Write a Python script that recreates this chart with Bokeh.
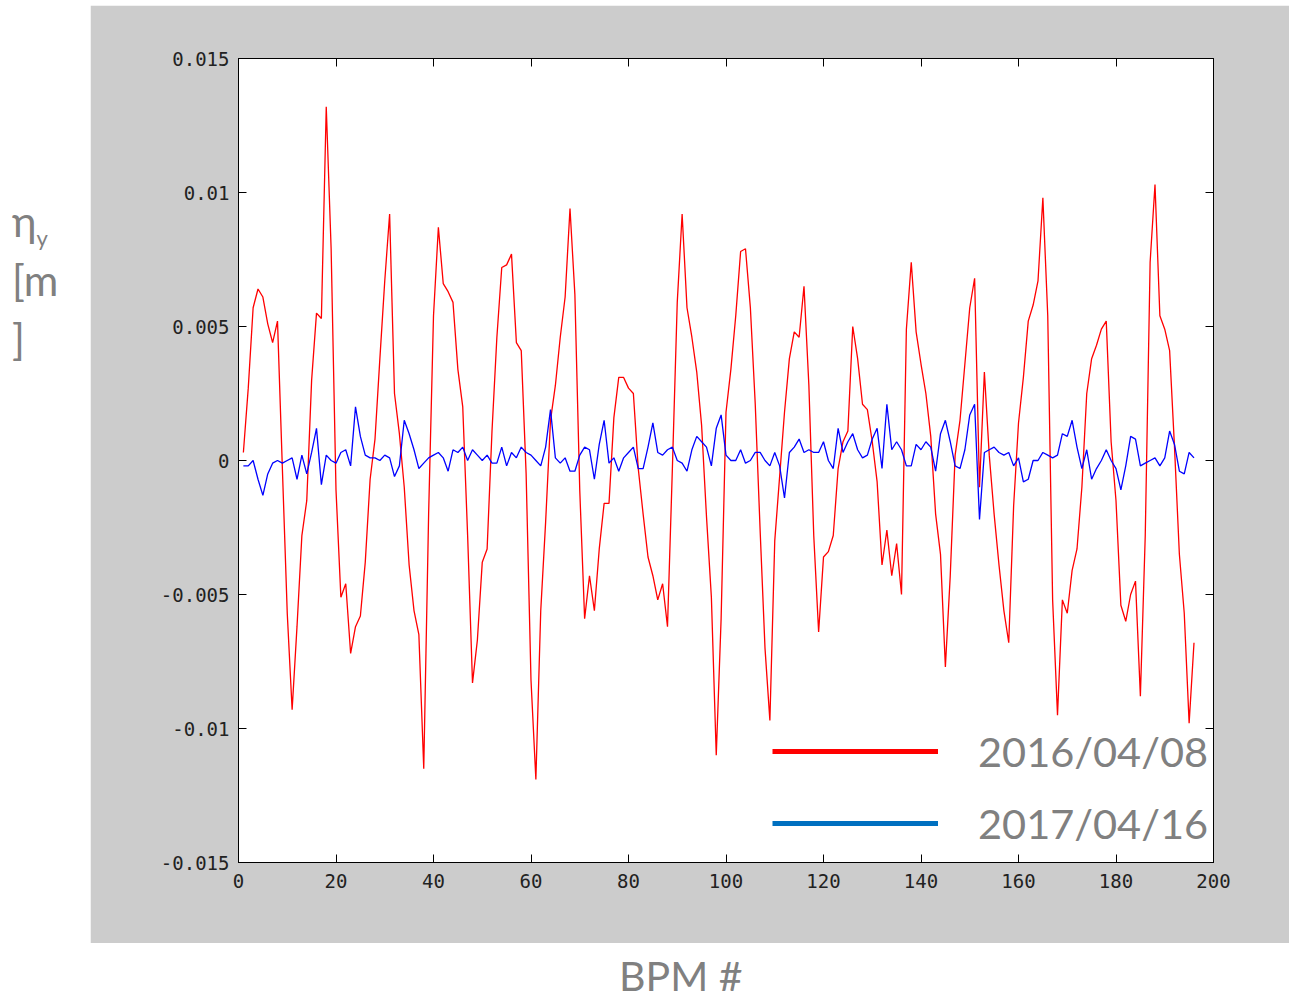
from bokeh.plotting import figure
from bokeh.models import (FixedTicker, CustomJSTickFormatter, LinearAxis, Legend,
                          LegendItem, Range1d, Div, ColumnDataSource)
from bokeh.layouts import column, row
from bokeh.embed import file_html
from bokeh.resources import INLINE

# ---------------- data ----------------
bpm = list(range(1, 197))

eta_2016 = [
    0.0003, 0.0027, 0.0057, 0.0064, 0.0061, 0.0051, 0.0044, 0.0052, -0.0003, -0.0057,
    -0.0093, -0.0062, -0.0028, -0.0015, 0.0030, 0.0055, 0.0053, 0.0132, 0.0079, -0.0011,
    -0.0051, -0.0046, -0.0072, -0.0062, -0.0058, -0.0038, -0.0007, 0.0008, 0.0038, 0.0067,
    0.0092, 0.0025, 0.0010, -0.0010, -0.0039, -0.0056, -0.0065, -0.0115, -0.0020, 0.0054,
    0.0087, 0.0066, 0.0063, 0.0059, 0.0034, 0.0020, -0.0028, -0.0083, -0.0067, -0.0038,
    -0.0033, 0.0011, 0.0046, 0.0072, 0.0073, 0.0077, 0.0044, 0.0041, -0.0005, -0.0082,
    -0.0119, -0.0056, -0.0023, 0.0015, 0.0028, 0.0046, 0.0061, 0.0094, 0.0062, -0.0011,
    -0.0059, -0.0043, -0.0056, -0.0033, -0.0016, -0.0016, 0.0016, 0.0031, 0.0031, 0.0027,
    0.0025, -0.0003, -0.0020, -0.0036, -0.0043, -0.0052, -0.0046, -0.0062, -0.0003, 0.0059,
    0.0092, 0.0057, 0.0046, 0.0033, 0.0013, -0.0021, -0.0051, -0.0110, -0.0059, 0.0018,
    0.0034, 0.0054, 0.0078, 0.0079, 0.0057, 0.0021, -0.0026, -0.0070, -0.0097, -0.0030,
    -0.0006, 0.0018, 0.0038, 0.0048, 0.0046, 0.0065, 0.0028, -0.0028, -0.0064, -0.0036,
    -0.0034, -0.0028, -0.0003, 0.0007, 0.0011, 0.0050, 0.0038, 0.0021, 0.0019, 0.0007,
    -0.0008, -0.0039, -0.0026, -0.0043, -0.0031, -0.0050, 0.0049, 0.0074, 0.0048, 0.0036,
    0.0025, 0.0009, -0.0020, -0.0035, -0.0077, -0.0043, 0.0002, 0.0015, 0.0036, 0.0057,
    0.0068, -0.0010, 0.0033, 0.0002, -0.0020, -0.0039, -0.0056, -0.0068, -0.0017, 0.0014,
    0.0031, 0.0052, 0.0058, 0.0067, 0.0098, 0.0054, -0.0052, -0.0095, -0.0052, -0.0057,
    -0.0041, -0.0033, -0.0010, 0.0025, 0.0038, 0.0043, 0.0049, 0.0052, 0.0007, -0.0015,
    -0.0054, -0.0060, -0.0050, -0.0045, -0.0088, -0.0028, 0.0074, 0.0103, 0.0054, 0.0049,
    0.0041, 0.0005, -0.0035, -0.0057, -0.0098, -0.0068,
]

eta_2017 = [
    -0.0002, -0.0002, 0.0000, -0.0007, -0.0013, -0.0005, -0.0001, 0.0000, -0.0001, 0.0000,
    0.0001, -0.0007, 0.0002, -0.0005, 0.0003, 0.0012, -0.0009, 0.0002, 0.0000, -0.0001,
    0.0003, 0.0004, -0.0002, 0.0020, 0.0009, 0.0002, 0.0001, 0.0001, 0.0000, 0.0002,
    0.0001, -0.0006, -0.0002, 0.0015, 0.0010, 0.0004, -0.0003, -0.0001, 0.0001, 0.0002,
    0.0003, 0.0001, -0.0004, 0.0004, 0.0003, 0.0005, 0.0000, 0.0004, 0.0002, 0.0000,
    0.0002, -0.0001, -0.0001, 0.0005, -0.0002, 0.0003, 0.0001, 0.0005, 0.0003, 0.0002,
    0.0000, -0.0002, 0.0005, 0.0019, 0.0001, -0.0001, 0.0001, -0.0004, -0.0004, 0.0002,
    0.0005, 0.0004, -0.0007, 0.0006, 0.0015, -0.0001, 0.0001, -0.0004, 0.0001, 0.0003,
    0.0005, -0.0003, -0.0003, 0.0005, 0.0014, 0.0003, 0.0002, 0.0004, 0.0005, 0.0000,
    -0.0001, -0.0004, 0.0004, 0.0009, 0.0007, 0.0005, -0.0002, 0.0012, 0.0017, 0.0002,
    0.0000, 0.0000, 0.0004, -0.0001, 0.0000, 0.0003, 0.0003, 0.0000, -0.0002, 0.0003,
    -0.0002, -0.0014, 0.0003, 0.0005, 0.0008, 0.0003, 0.0004, 0.0003, 0.0003, 0.0007,
    0.0000, -0.0003, 0.0012, 0.0003, 0.0007, 0.0010, 0.0004, 0.0001, 0.0002, 0.0008,
    0.0012, -0.0003, 0.0021, 0.0004, 0.0007, 0.0004, -0.0002, -0.0002, 0.0006, 0.0004,
    0.0007, 0.0005, -0.0004, 0.0010, 0.0015, 0.0007, -0.0002, -0.0003, 0.0004, 0.0017,
    0.0021, -0.0022, 0.0003, 0.0004, 0.0005, 0.0003, 0.0002, 0.0003, -0.0002, 0.0001,
    -0.0008, -0.0007, 0.0000, 0.0000, 0.0003, 0.0002, 0.0001, 0.0002, 0.0010, 0.0009,
    0.0015, 0.0005, -0.0003, 0.0004, -0.0007, -0.0003, 0.0000, 0.0004, 0.0000, -0.0003,
    -0.0011, -0.0002, 0.0009, 0.0008, -0.0002, -0.0001, 0.0000, 0.0001, -0.0002, 0.0001,
    0.0011, 0.0006, -0.0004, -0.0005, 0.0003, 0.0001,
]

x_ticks = [0, 20, 40, 60, 80, 100, 120, 140, 160, 180, 200]
y_ticks = [-0.015, -0.01, -0.005, 0, 0.005, 0.01, 0.015]
series_labels = ["2016/04/08", "2017/04/16"]
x_label = "BPM #"

# ---------------- figure ----------------
GRAY = "#cccccc"
TXT = "#808080"

p = figure(width=1199, height=938, output_backend="svg", toolbar_location=None,
           x_range=Range1d(0, 200), y_range=Range1d(-0.015, 0.015),
           min_border_left=148, min_border_right=76, min_border_top=53,
           min_border_bottom=81, x_axis_location=None, y_axis_location=None)
p.border_fill_color = GRAY
p.background_fill_color = "white"
p.outline_line_color = "black"
p.outline_line_width = 1
p.grid.visible = False

fmt = CustomJSTickFormatter(code="return tick.toString();")

for loc, ticks, show in (("left", y_ticks, True), ("right", y_ticks, False),
                         ("below", x_ticks, True), ("above", x_ticks, False)):
    ax = LinearAxis(ticker=FixedTicker(ticks=ticks))
    ax.major_tick_in = 8
    ax.major_tick_out = 0
    ax.minor_tick_line_color = None
    ax.axis_line_color = "black"
    ax.major_tick_line_color = "black"
    ax.formatter = fmt
    ax.major_label_text_font = "DejaVu Sans Mono"
    ax.major_label_text_font_size = "19px"
    if show:
        ax.major_label_text_color = "#222222"
        ax.major_label_standoff = 9 if loc == "left" else 11
    else:
        ax.major_label_text_color = None
        ax.major_label_standoff = 0
    p.add_layout(ax, loc)

src = ColumnDataSource(dict(bpm=bpm, a=eta_2016, b=eta_2017))
p.line("bpm", "a", source=src, line_color="#ff0000", line_width=1.3)
p.line("bpm", "b", source=src, line_color="#0000ff", line_width=1.3)

# legend swatches: thick lines that draw nothing in the frame (single NaN point)
dummy = ColumnDataSource(dict(x=[float("nan")], y=[float("nan")]))
r1 = p.line("x", "y", source=dummy, line_color="#ff0000", line_width=5)
r2 = p.line("x", "y", source=dummy, line_color="#0070c0", line_width=5)
legend = Legend(items=[LegendItem(label=series_labels[0], renderers=[r1]),
                       LegendItem(label=series_labels[1], renderers=[r2])],
                location=(534, 14), orientation="vertical",
                label_text_font="Lato", label_text_font_size="41.5px",
                label_text_color=TXT, glyph_width=166, glyph_height=40,
                label_height=40, label_standoff=40, spacing=22, padding=0,
                margin=0, border_line_color=None, background_fill_alpha=0)
p.add_layout(legend, "center")

ylab = Div(width=90, height=938, margin=0,
           text=('<div style="font-family:Lato;font-size:42px;color:%s;'
                 'line-height:59px;padding-top:187px;padding-left:12px;">'
                 '&#951;<sub style="font-size:22px;line-height:0;">y</sub><br>[m<br>]</div>') % TXT)
xlab = Div(width=1289, height=58, margin=0,
           text=('<div style="font-family:Lato;font-size:41px;color:%s;'
                 'line-height:40px;padding-top:13px;padding-left:619px;">%s</div>')
                % (TXT, x_label))
top = Div(width=1289, height=5, margin=0, text="")

layout = column(top, row(ylab, p, spacing=0), xlab, spacing=0)

open("out.html", "w").write(file_html(layout, INLINE))
